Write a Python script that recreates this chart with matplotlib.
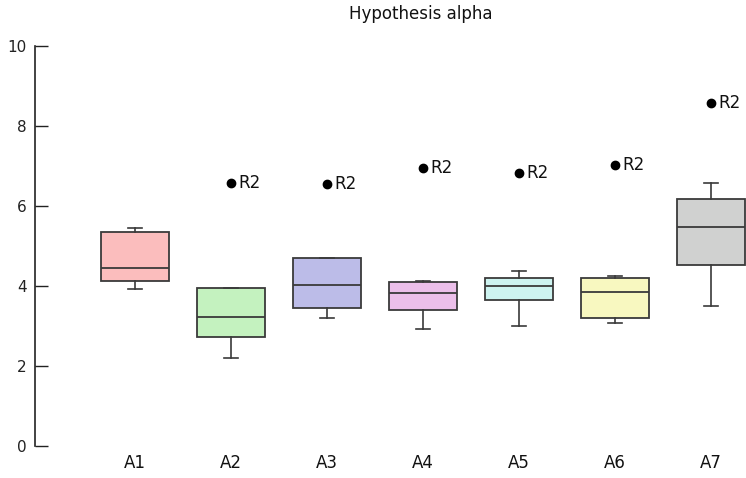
import matplotlib.pyplot as plt

# group labels and box statistics (whisker low, q1, median, q3, whisker high)
groups = ["A1", "A2", "A3", "A4", "A5", "A6", "A7"]
whislo = [3.93, 2.19, 3.21, 2.92, 3.01, 3.08, 3.49]
q1 = [4.13, 2.72, 3.45, 3.41, 3.65, 3.19, 4.53]
med = [4.46, 3.22, 4.03, 3.83, 4.00, 3.86, 5.48]
q3 = [5.36, 3.94, 4.71, 4.11, 4.19, 4.21, 6.18]
whishi = [5.46, 3.95, 4.71, 4.13, 4.38, 4.26, 6.58]
outliers = [[], [6.57], [6.55], [6.94], [6.83], [7.03], [8.58]]
outlier_label = "R2"
colors = ["#fbbdbd", "#c4f2bf", "#bcbce8", "#ecbfea", "#cdf3f0", "#f8f8c0", "#d0d1d0"]

plt.rcParams["font.family"] = "DejaVu Sans"

fig = plt.figure(figsize=(7.46, 4.78), dpi=100)
ax = fig.add_axes([35 / 746, 32 / 478, 711 / 746, 400 / 478])

stats = []
for i, g in enumerate(groups):
    stats.append({"label": g, "whislo": whislo[i], "q1": q1[i], "med": med[i],
                  "q3": q3[i], "whishi": whishi[i], "fliers": []})

positions = list(range(len(groups)))
line_col = "#3a3a3a"
bp = ax.bxp(stats, positions=positions, widths=0.7, patch_artist=True,
            showfliers=False, capwidths=0.15,
            boxprops=dict(edgecolor=line_col, linewidth=1.3),
            medianprops=dict(color=line_col, linewidth=1.3),
            whiskerprops=dict(color=line_col, linewidth=1.2),
            capprops=dict(color=line_col, linewidth=1.2))
for patch, c in zip(bp["boxes"], colors):
    patch.set_facecolor(c)

# outlier points with their labels
for x, pts in zip(positions, outliers):
    for y in pts:
        ax.plot(x, y, "o", color="black", markersize=6)
        ax.annotate(outlier_label, (x, y), xytext=(5, 0), textcoords="offset points",
                    va="center", ha="left", fontsize=12, color="#111111")

ax.set_xlim(-1.042, 6.365)
ax.set_ylim(0, 10)
ax.set_yticks([0, 2, 4, 6, 8, 10])
ax.tick_params(axis="y", direction="in", length=9, width=1, labelsize=11, pad=6,
               colors="#222222")
ax.tick_params(axis="x", length=0, labelsize=12, pad=6, colors="#111111")
for side in ["top", "right", "bottom"]:
    ax.spines[side].set_visible(False)
ax.spines["left"].set_linewidth(1.2)
ax.spines["left"].set_color("#222222")

fig.text(421 / 746, 1 - 14 / 478, "Hypothesis alpha", ha="center", va="center",
         fontsize=12, color="#111111")

fig.savefig("out.png", dpi=100)
